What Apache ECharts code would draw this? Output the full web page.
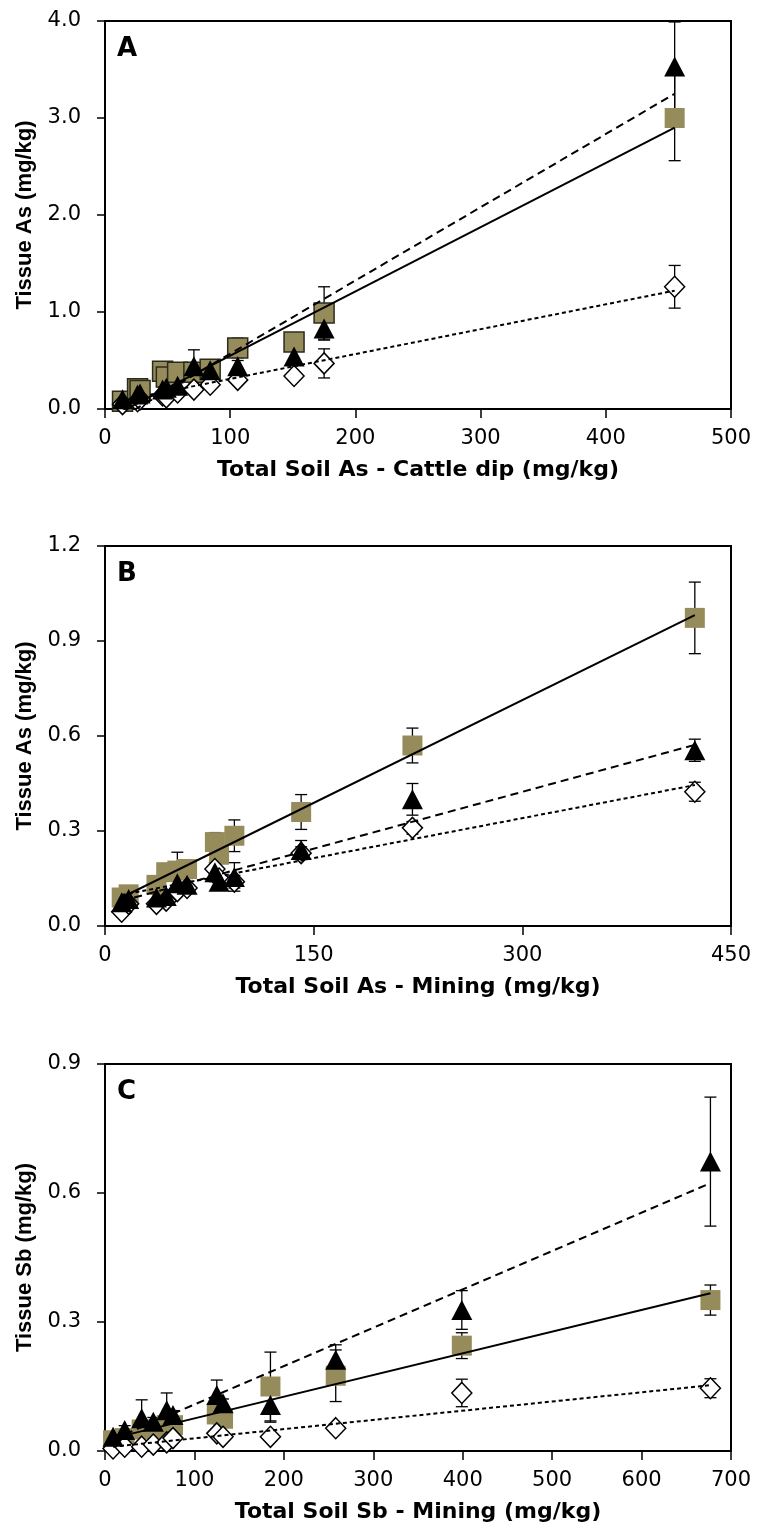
<!DOCTYPE html>
<html><head><meta charset="utf-8">
<script src="https://cdn.jsdelivr.net/npm/echarts@6/dist/echarts.min.js"></script>
<style>html,body{margin:0;padding:0;background:#fff}#c{width:757px;height:1530px}</style>
</head><body><div id="c"></div>
<script>
// ---------- Panel A : cattle dip As ----------
const soilA = [14, 26, 28, 46, 49, 58, 71, 84, 106, 151, 175, 455];
const sqA   = [0.08, 0.21, 0.19, 0.39, 0.33, 0.38, 0.38, 0.41, 0.63, 0.69, 0.99, 3.00];
const sqAe  = [0.02, 0.03, 0.03, 0.04, 0.03, 0.04, 0.04, 0.05, 0.10, 0.05, 0.27, 0.44];
const triA  = [0.10, 0.15, 0.16, 0.20, 0.22, 0.24, 0.44, 0.40, 0.44, 0.54, 0.83, 3.53];
const triAe = [0.02, 0.03, 0.03, 0.03, 0.03, 0.03, 0.17, 0.05, 0.06, 0.06, 0.12, 0.46];
const diaA  = [0.05, 0.08, 0.10, 0.14, 0.12, 0.17, 0.20, 0.25, 0.30, 0.34, 0.47, 1.26];
const diaAe = [0.01, 0.02, 0.02, 0.02, 0.02, 0.03, 0.03, 0.03, 0.04, 0.04, 0.15, 0.22];
const fitA  = { sq: [[14, -0.02], [455, 2.90]], tri: [[14, -0.08], [455, 3.25]], dia: [[14, 0.09], [455, 1.22]] };

// ---------- Panel B : mining As ----------
const soilB = [12, 17, 37, 44, 52, 59, 79, 82, 93, 141, 221, 424];
const sqB   = [0.09, 0.10, 0.13, 0.17, 0.175, 0.18, 0.265, 0.225, 0.285, 0.36, 0.57, 0.973];
const sqBe  = [0.02, 0.02, 0.02, 0.02, 0.058, 0.02, 0.03, 0.02, 0.05, 0.055, 0.055, 0.113];
const triB  = [0.075, 0.085, 0.09, 0.095, 0.135, 0.13, 0.17, 0.14, 0.155, 0.24, 0.40, 0.555];
const triBe = [0.01, 0.01, 0.01, 0.01, 0.02, 0.02, 0.03, 0.02, 0.045, 0.03, 0.05, 0.035];
const diaB  = [0.045, 0.07, 0.07, 0.08, 0.11, 0.12, 0.18, 0.15, 0.14, 0.23, 0.31, 0.424];
const diaBe = [0.01, 0.01, 0.01, 0.01, 0.01, 0.01, 0.02, 0.01, 0.02, 0.02, 0.02, 0.03];
const fitB  = { sq: [[12, 0.09], [424, 0.982]], tri: [[12, 0.079], [424, 0.572]], dia: [[12, 0.098], [424, 0.445]] };

// ---------- Panel C : mining Sb ----------
const soilC = [9, 22, 41, 54, 69, 76, 125, 132, 185, 258, 399, 677];
const sqC   = [0.025, 0.03, 0.05, 0.05, 0.06, 0.06, 0.085, 0.075, 0.15, 0.175, 0.245, 0.351];
const sqCe  = [0.01, 0.01, 0.01, 0.01, 0.01, 0.01, 0.01, 0.01, 0.08, 0.06, 0.03, 0.035];
const triC  = [0.033, 0.049, 0.076, 0.068, 0.095, 0.084, 0.13, 0.111, 0.107, 0.212, 0.328, 0.673];
const triCe = [0.01, 0.01, 0.043, 0.01, 0.04, 0.01, 0.035, 0.01, 0.04, 0.035, 0.045, 0.15];
const diaC  = [0.006, 0.01, 0.01, 0.015, 0.02, 0.03, 0.041, 0.033, 0.033, 0.053, 0.135, 0.146];
const diaCe = [0.005, 0.005, 0.005, 0.005, 0.005, 0.005, 0.01, 0.01, 0.01, 0.01, 0.032, 0.022];
const fitC  = { sq: [[9, 0.03], [677, 0.367]], tri: [[9, 0.027], [677, 0.623]], dia: [[9, 0.01], [677, 0.153]] };

// ---------- axes / labels ----------
const panelLetters = ['A', 'B', 'C'];
const xNames = ['Total Soil As - Cattle dip (mg/kg)', 'Total Soil As - Mining (mg/kg)', 'Total Soil Sb - Mining (mg/kg)'];
const yNames = ['Tissue As (mg/kg)', 'Tissue As (mg/kg)', 'Tissue Sb (mg/kg)'];
const xMax = [500, 450, 700], xStep = [100, 150, 100];
const yMax = [4.0, 1.2, 0.9], yStep = [1.0, 0.3, 0.3];

const FONT = "'Liberation Sans', Arial, Helvetica, sans-serif";
const WIDE = "'DejaVu Sans', Verdana, sans-serif";
const OLIVE = '#968C5B';
const grids = [
  { left: 105, top: 21, width: 626, height: 388 },
  { left: 105, top: 546, width: 626, height: 380 },
  { left: 105, top: 1064, width: 626, height: 387 }
];

const panels = [
  { x: soilA, sq: sqA, sqe: sqAe, tri: triA, trie: triAe, dia: diaA, diae: diaAe, fit: fitA, sqBorder: true },
  { x: soilB, sq: sqB, sqe: sqBe, tri: triB, trie: triBe, dia: diaB, diae: diaBe, fit: fitB, sqBorder: false },
  { x: soilC, sq: sqC, sqe: sqCe, tri: triC, trie: triCe, dia: diaC, diae: diaCe, fit: fitC, sqBorder: false }
];

function errSeries(i, xs, ys, es) {
  return {
    type: 'custom', xAxisIndex: i, yAxisIndex: i, z: 1, silent: true,
    data: xs.map((x, k) => [x, ys[k], es[k]]),
    renderItem: function (params, api) {
      const x = api.value(0), y = api.value(1), e = api.value(2);
      const lo = api.coord([x, y - e]), hi = api.coord([x, y + e]);
      const st = { stroke: '#000', lineWidth: 1.3 };
      const cw = 6;
      return { type: 'group', children: [
        { type: 'line', shape: { x1: lo[0], y1: lo[1], x2: hi[0], y2: hi[1] }, style: st },
        { type: 'line', shape: { x1: lo[0] - cw, y1: lo[1], x2: lo[0] + cw, y2: lo[1] }, style: st },
        { type: 'line', shape: { x1: hi[0] - cw, y1: hi[1], x2: hi[0] + cw, y2: hi[1] }, style: st }
      ]};
    }
  };
}

const option = { animation: false, backgroundColor: '#fff', grid: [], xAxis: [], yAxis: [], series: [], graphic: [] };

panels.forEach((p, i) => {
  option.grid.push(Object.assign({ show: true, borderColor: '#000', borderWidth: 2, backgroundColor: 'transparent' }, grids[i]));
  option.xAxis.push({
    gridIndex: i, type: 'value', min: 0, max: xMax[i], interval: xStep[i],
    axisLine: { show: true, onZero: false, lineStyle: { color: '#000', width: 2 } },
    axisTick: { show: true, length: 9, lineStyle: { color: '#000', width: 1.5 } },
    splitLine: { show: false },
    axisLabel: { color: '#000', fontSize: 21, fontFamily: WIDE, margin: 19 },
    name: xNames[i], nameLocation: 'middle', nameGap: 50,
    nameTextStyle: { color: '#000', fontSize: 22, fontWeight: 'bold', fontFamily: WIDE }
  });
  option.yAxis.push({
    gridIndex: i, type: 'value', min: 0, max: yMax[i], interval: yStep[i],
    axisLine: { show: true, onZero: false, lineStyle: { color: '#000', width: 2 } },
    axisTick: { show: true, length: 8, lineStyle: { color: '#000', width: 1.5 } },
    splitLine: { show: false },
    axisLabel: { color: '#000', fontSize: 21, fontFamily: WIDE, margin: 24, formatter: v => v.toFixed(1) },
    name: yNames[i], nameLocation: 'middle', nameGap: 69, nameRotate: 90,
    nameTextStyle: { color: '#000', fontSize: 22, fontWeight: 'bold', fontFamily: FONT }
  });
  // error bars
  option.series.push(errSeries(i, p.x, p.sq, p.sqe));
  option.series.push(errSeries(i, p.x, p.dia, p.diae));
  option.series.push(errSeries(i, p.x, p.tri, p.trie));
  // markers
  const last = p.x.length - 1;
  option.series.push({
    type: 'scatter', xAxisIndex: i, yAxisIndex: i, z: 2, symbol: 'rect', symbolSize: 20,
    data: p.x.map((x, k) => ({ value: [x, p.sq[k]],
      itemStyle: (p.sqBorder && k !== last) ? { borderColor: '#2b2b1e', borderWidth: 1.5 } : { borderWidth: 0 } })),
    itemStyle: { color: OLIVE, opacity: 1 }
  });
  option.series.push({
    type: 'scatter', xAxisIndex: i, yAxisIndex: i, z: 3, symbol: 'diamond', symbolSize: [20, 21],
    data: p.x.map((x, k) => [x, p.dia[k]]),
    itemStyle: { color: '#fff', borderColor: '#000', borderWidth: 1.5, opacity: 1 }
  });
  option.series.push({
    type: 'scatter', xAxisIndex: i, yAxisIndex: i, z: 4, symbol: 'triangle', symbolSize: [21, 20],
    data: p.x.map((x, k) => [x, p.tri[k]]),
    itemStyle: { color: '#000', opacity: 1 }
  });
  // trend lines
  const lineDefs = [['sq', 'solid'], ['tri', [8, 5]], ['dia', [4, 3]]];
  lineDefs.forEach(([key, type]) => {
    option.series.push({
      type: 'line', xAxisIndex: i, yAxisIndex: i, z: 5, showSymbol: false, symbol: 'none', clip: true,
      data: p.fit[key], lineStyle: { color: '#000', width: 2, type: type }, silent: true
    });
  });
  option.graphic.push({
    type: 'text', left: grids[i].left + 12, top: grids[i].top + 15,
    style: { text: panelLetters[i], font: 'bold 26px ' + WIDE, fill: '#000' }
  });
});

const chart = echarts.init(document.getElementById('c'), null, { renderer: 'canvas' });
chart.setOption(option);
</script>
</body></html>
